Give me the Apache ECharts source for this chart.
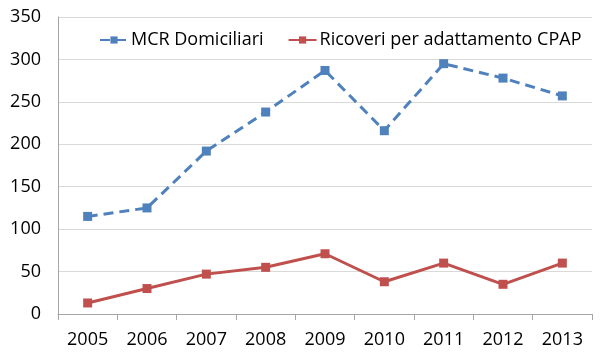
<!DOCTYPE html>
<html><head><meta charset="utf-8">
<script src="https://cdn.jsdelivr.net/npm/echarts@6/dist/echarts.min.js"></script>
<style>html,body{margin:0;padding:0;background:#fff}#c{width:600px;height:364px}</style>
</head><body><div id="c"></div>
<script>
const years = ['2005','2006','2007','2008','2009','2010','2011','2012','2013'];
const mcrDomiciliari = [115, 125, 192, 238, 287, 216, 295, 278, 257];
const ricoveriCPAP = [13, 30, 47, 55, 71, 38, 60, 35, 60];
const seriesNames = ['MCR Domiciliari', 'Ricoveri per adattamento CPAP'];

const chart = echarts.init(document.getElementById('c'));
const font = '"Open Sans", "Noto Sans", sans-serif';
chart.setOption({
  animation: false,
  legend: {
    top: 26, left: 94,
    itemWidth: 28, itemHeight: 9, itemGap: 24,
    textStyle: { fontFamily: font, fontSize: 18, color: '#000', padding: [0, 0, 0, -2] },
    data: seriesNames
  },
  grid: { left: 58, right: 8, top: 17, bottom: 50 },
  xAxis: {
    type: 'category', data: years, boundaryGap: true,
    axisLine: { lineStyle: { color: '#a6a6a6' } },
    axisTick: { show: true, length: 6, lineStyle: { color: '#a6a6a6' } },
    axisLabel: { fontFamily: font, fontSize: 18, color: '#000', margin: 17 }
  },
  yAxis: {
    type: 'value', min: 0, max: 350, interval: 50,
    axisLine: { show: true, lineStyle: { color: '#a6a6a6' } },
    axisTick: { show: false },
    splitLine: { lineStyle: { color: '#d9d9d9' } },
    axisLabel: { fontFamily: font, fontSize: 18, color: '#000', margin: 17 }
  },
  series: [
    {
      name: seriesNames[0], type: 'line', data: mcrDomiciliari,
      symbol: 'rect', symbolSize: 9,
      lineStyle: { color: '#4f81bd', width: 3, type: [10, 6] },
      itemStyle: { color: '#4f81bd' }
    },
    {
      name: seriesNames[1], type: 'line', data: ricoveriCPAP,
      symbol: 'rect', symbolSize: 9,
      lineStyle: { color: '#c0504d', width: 3 },
      itemStyle: { color: '#c0504d' }
    }
  ]
});
</script></body></html>
